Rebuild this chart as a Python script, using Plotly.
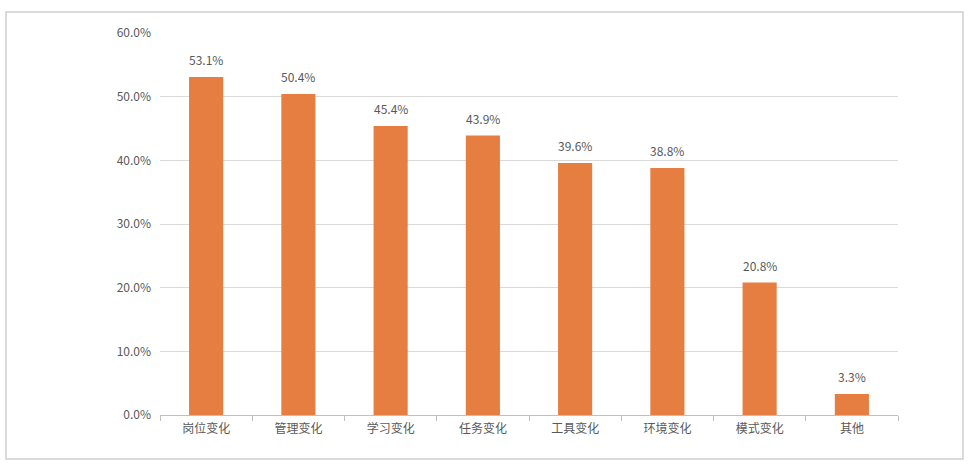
import plotly.graph_objects as go

categories = ["岗位变化", "管理变化", "学习变化", "任务变化", "工具变化", "环境变化", "模式变化", "其他"]
values = [53.1, 50.4, 45.4, 43.9, 39.6, 38.8, 20.8, 3.3]
tick_vals = [0, 10, 20, 30, 40, 50, 60]
tick_text = ["0.0%", "10.0%", "20.0%", "30.0%", "40.0%", "50.0%", "60.0%"]

font_family = "Noto Sans CJK SC, Noto Sans, sans-serif"
text_color = "#595959"

fig = go.Figure(go.Bar(
    x=categories,
    y=values,
    marker=dict(color="#E67E41", line=dict(width=0)),
    width=0.37,
    hoverinfo="x+y",
))

W, H = 978, 476
l, r, t, b = 160, 80, 33, 61
pw = W - l - r
ph = H - t - b

annotations = [
    dict(x=c, y=v, text=f"{v:.1f}%", showarrow=False, yanchor="bottom",
         yshift=7, font=dict(size=12, color=text_color, family=font_family))
    for c, v in zip(categories, values)
]

fig.update_layout(
    width=W, height=H,
    margin=dict(l=l, r=r, t=t, b=b),
    plot_bgcolor="white",
    paper_bgcolor="white",
    showlegend=False,
    font=dict(family=font_family, size=12, color=text_color),
    annotations=annotations,
    xaxis=dict(
        showline=True, linecolor="#BFBFBF", linewidth=1,
        ticks="outside", ticklen=5, tickcolor="#BFBFBF",
        tickson="boundaries",
        tickfont=dict(size=12, color=text_color),
        showgrid=False, ticklabelstandoff=3,
    ),
    yaxis=dict(
        range=[0, 60],
        tickvals=tick_vals, ticktext=tick_text,
        showgrid=True, gridcolor="#D9D9D9", gridwidth=1,
        zeroline=False, showline=False,
        tickfont=dict(size=12, color=text_color),
        ticks="", ticklabelstandoff=8,
    ),
    shapes=[dict(
        type="rect", xref="paper", yref="paper",
        x0=(6 - l) / pw, x1=(963 - l) / pw,
        y0=(H - b - 459) / ph, y1=(H - b - 12) / ph,
        line=dict(color="#D0D0D0", width=1.5),
        fillcolor="rgba(0,0,0,0)", layer="below",
    )],
)

fig.write_html("out.html", config={"displayModeBar": False},
               post_script="document.body.style.margin='0';")
